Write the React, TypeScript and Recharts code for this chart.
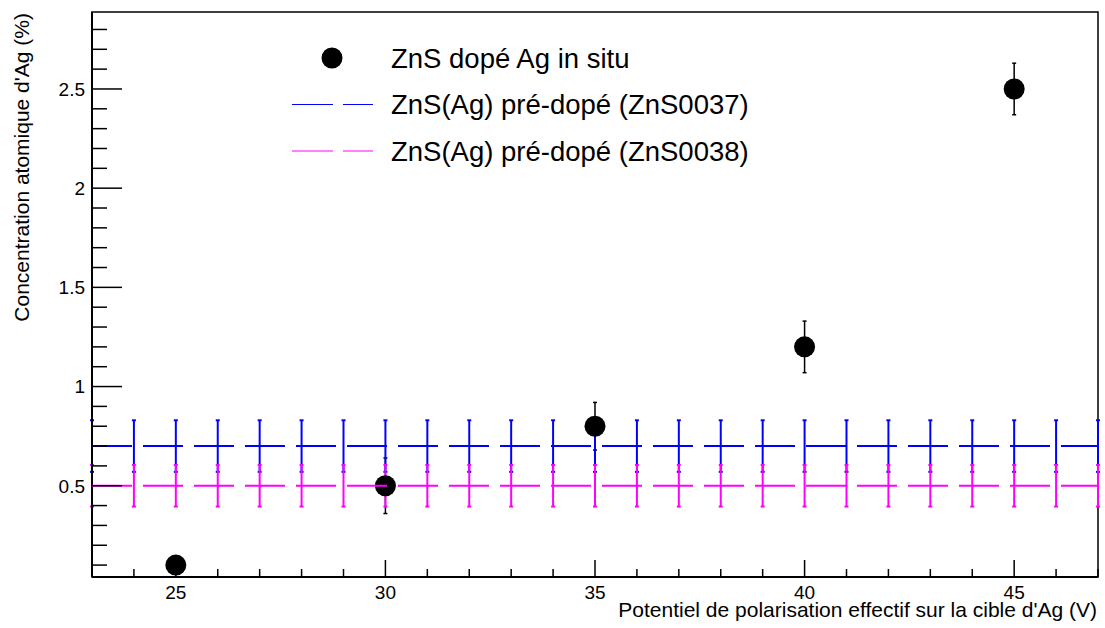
import {
  ComposedChart,
  Scatter,
  XAxis,
  YAxis,
  ErrorBar,
  Legend,
  Label,
  ReferenceArea,
} from "recharts";

// in situ doping, measured points
const inSituVoltage = [25, 30, 35, 40, 45];
const inSituConc = [0.1, 0.5, 0.8, 1.2, 2.5];
const inSituErr = [0.03, 0.14, 0.12, 0.13, 0.13];

// pre-doped references, drawn over the whole voltage range
const refVoltage = [
  23, 24, 25, 26, 27, 28, 29, 30, 31, 32, 33, 34, 35, 36, 37, 38, 39, 40, 41,
  42, 43, 44, 45, 46, 47,
];
const zns0037Conc = [
  0.7, 0.7, 0.7, 0.7, 0.7, 0.7, 0.7, 0.7, 0.7, 0.7, 0.7, 0.7, 0.7, 0.7, 0.7,
  0.7, 0.7, 0.7, 0.7, 0.7, 0.7, 0.7, 0.7, 0.7, 0.7,
];
const zns0037Err = 0.13;
const zns0038Conc = [
  0.5, 0.5, 0.5, 0.5, 0.5, 0.5, 0.5, 0.5, 0.5, 0.5, 0.5, 0.5, 0.5, 0.5, 0.5,
  0.5, 0.5, 0.5, 0.5, 0.5, 0.5, 0.5, 0.5, 0.5, 0.5,
];
const zns0038Err = 0.105;

const xTicks = refVoltage;
const yTicks = [
  0.1, 0.2, 0.3, 0.4, 0.5, 0.6, 0.7, 0.8, 0.9, 1, 1.1, 1.2, 1.3, 1.4, 1.5, 1.6,
  1.7, 1.8, 1.9, 2, 2.1, 2.2, 2.3, 2.4, 2.5, 2.6, 2.7, 2.8,
];

const inSituData = inSituVoltage.map((v, i) => ({
  v,
  c: inSituConc[i],
  err: inSituErr[i],
}));
const data0037 = refVoltage.map((v, i) => ({ v, c: zns0037Conc[i], err: zns0037Err }));
const data0038 = refVoltage.map((v, i) => ({ v, c: zns0038Conc[i], err: zns0038Err }));

const FONT = "'Liberation Sans', Arial, sans-serif";
const BLUE = "#0000ff";
const MAGENTA = "#ff00ff";

const YTick = (props: any) => {
  const { x, y, payload } = props;
  const v = payload.value;
  const major = Math.abs(v * 2 - Math.round(v * 2)) < 1e-6;
  return (
    <g>
      <line x1={x} x2={x + (major ? 30 : 15)} y1={y} y2={y} stroke="#000" strokeWidth={1.5} />
      {major && (
        <text x={x - 7} y={y} dy="0.36em" textAnchor="end" fontSize={19} fontFamily={FONT} fill="#000">
          {v}
        </text>
      )}
    </g>
  );
};

const XTick = (props: any) => {
  const { x, y, payload } = props;
  const v = payload.value;
  const major = v % 5 === 0;
  return (
    <g>
      <line x1={x} x2={x} y1={y} y2={y - (major ? 17 : 8)} stroke="#000" strokeWidth={1.5} />
      {major && (
        <text x={x} y={y + 21.5} textAnchor="middle" fontSize={19} fontFamily={FONT} fill="#000">
          {v}
        </text>
      )}
    </g>
  );
};

const LegendBox = (props: any) => {
  const { payload } = props;
  return (
    <svg width={500} height={140} style={{ display: "block" }}>
      {(payload || []).map((entry: any, i: number) => {
        const cy = 23 + i * 46.5;
        return (
          <g key={i}>
            {entry.type === "circle" ? (
              <circle cx={47} cy={cy} r={10.5} fill="#000" />
            ) : (
              <line x1={7} x2={88} y1={cy} y2={cy} stroke={entry.color} strokeWidth={1} strokeDasharray="41 10" />
            )}
            <text x={106} y={cy} dy="0.36em" fontSize={27.5} fontFamily={FONT} fill="#000">
              {entry.value}
            </text>
          </g>
        );
      })}
    </svg>
  );
};

export default function App() {
  return (
    <div style={{ position: "absolute", left: 0, top: 0, background: "#fff" }}>
      <ComposedChart
        width={1105}
        height={628}
        margin={{ top: 12, right: 7, bottom: 0, left: 0 }}
      >
        <XAxis
          dataKey="v"
          type="number"
          domain={[23, 47]}
          allowDataOverflow
          ticks={xTicks}
          interval={0}
          height={51}
          tickSize={0}
          tickMargin={0}
          tickLine={false}
          tick={<XTick />}
          axisLine={{ stroke: "#000", strokeWidth: 2 }}
        >
          <Label
            content={(p: any) => (
              <text
                x={p.viewBox.x + p.viewBox.width - 1}
                y={p.viewBox.y + 40}
                textAnchor="end"
                fontSize={21}
                fontFamily={FONT}
                fill="#000"
              >
                Potentiel de polarisation effectif sur la cible d'Ag (V)
              </text>
            )}
          />
        </XAxis>
        <YAxis
          type="number"
          domain={[0.04, 2.888]}
          allowDataOverflow
          ticks={yTicks}
          interval={0}
          width={92}
          tickSize={0}
          tickMargin={0}
          tickLine={false}
          tick={<YTick />}
          axisLine={{ stroke: "#000", strokeWidth: 2 }}
        >
          <Label
            content={(p: any) => (
              <text
                x={29}
                y={p.viewBox.y + 1}
                transform={`rotate(-90, 29, ${p.viewBox.y + 1})`}
                textAnchor="end"
                fontSize={21}
                fontFamily={FONT}
                fill="#000"
              >
                Concentration atomique d'Ag (%)
              </text>
            )}
          />
        </YAxis>
        <ReferenceArea
          x1={23}
          x2={47}
          y1={0.04}
          y2={2.888}
          fill="none"
          stroke="#000"
          strokeWidth={1.5}
          ifOverflow="visible"
        />
        <Legend
          layout="horizontal"
          verticalAlign="middle"
          align="center"
          wrapperStyle={{ left: 285, top: 35, width: 500 }}
          content={<LegendBox />}
        />
        <Scatter
          name="ZnS dopé Ag in situ"
          data={inSituData}
          dataKey="c"
          fill="#000"
          legendType="circle"
          isAnimationActive={false}
          shape={(p: any) => <circle cx={p.cx} cy={p.cy} r={10.5} fill="#000" />}
        >
          <ErrorBar dataKey="err" direction="y" width={2} stroke="#000" strokeWidth={1.5} />
        </Scatter>
        <Scatter
          name="ZnS(Ag) pré-dopé (ZnS0037)"
          data={data0037}
          dataKey="c"
          fill={BLUE}
          legendType="line"
          isAnimationActive={false}
          line={{ stroke: BLUE, strokeWidth: 2, strokeDasharray: "40 11" }}
          shape={() => <g />}
        >
          <ErrorBar dataKey="err" direction="y" width={2} stroke={BLUE} strokeWidth={2} />
        </Scatter>
        <Scatter
          name="ZnS(Ag) pré-dopé (ZnS0038)"
          data={data0038}
          dataKey="c"
          fill={MAGENTA}
          legendType="line"
          isAnimationActive={false}
          line={{ stroke: MAGENTA, strokeWidth: 2, strokeDasharray: "40 11" }}
          shape={() => <g />}
        >
          <ErrorBar dataKey="err" direction="y" width={2} stroke={MAGENTA} strokeWidth={2} />
        </Scatter>
      </ComposedChart>
    </div>
  );
}
